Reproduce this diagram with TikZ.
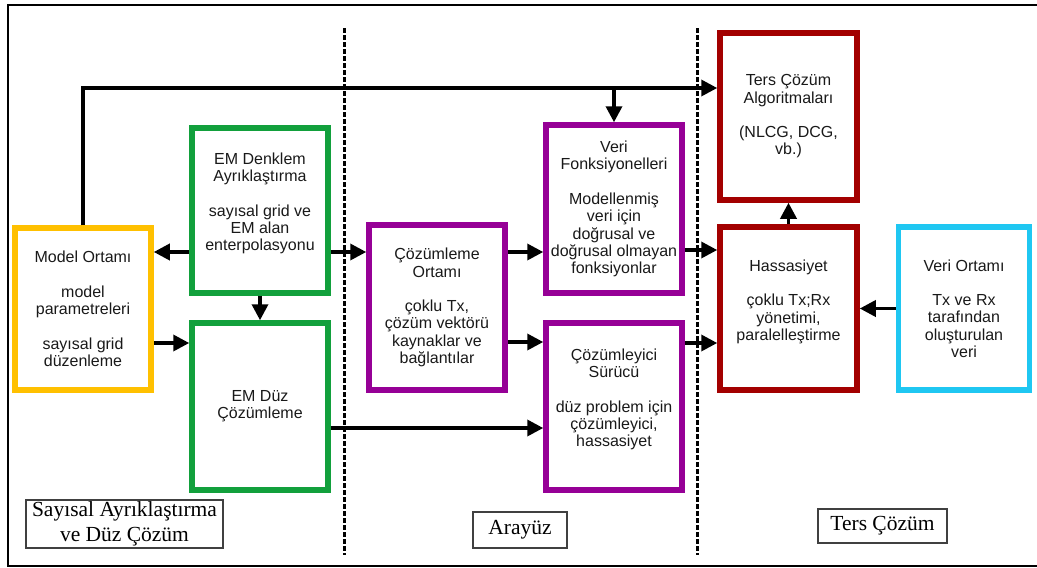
\documentclass[tikz,border=0pt]{standalone}
\usepackage{fontspec}
\setmainfont{Liberation Sans}
\newfontfamily\serifyazi{Liberation Serif}
\usetikzlibrary{arrows.meta}
\definecolor{sari}{HTML}{FFC000}
\definecolor{yesil}{HTML}{12A03C}
\definecolor{mor}{HTML}{960096}
\definecolor{bordo}{HTML}{A30000}
\definecolor{camgobegi}{HTML}{1FC7F2}
\newcommand{\kutuyazi}{\fontsize{16}{17.2}\selectfont}
\newcommand{\etiketyazi}{\serifyazi\fontsize{21.5}{25}\selectfont}
\begin{document}
\begin{tikzpicture}[x=1pt, y=-1pt,
    kutu/.style={draw=#1, line width=5.5pt, minimum width=136pt, minimum height=165pt,
        inner sep=0pt, align=center, font=\kutuyazi, text=black!90},
    etiket/.style={draw=black!75, line width=1.3pt, inner sep=0pt, align=center,
        font=\etiketyazi},
    ok/.style={line width=3.5pt, -{Triangle[length=16pt,width=16pt]}},
    kesik/.style={line width=3pt, dash pattern=on 4.5pt off 2.5pt}]
    \useasboundingbox (0,0) rectangle (1037,568);
    \draw[line width=2pt] (1037,5) -- (8,5) -- (8,566) -- (1037,566);
    \draw[kesik] (344,28) -- (344,555);
    \draw[kesik] (697,28) -- (697,555);

    \node[kutu=sari, minimum height=162pt] (model) at (83,309)
        {Model Ortamı\\[17.5pt] model\\ parametreleri\\[17.5pt] sayısal grid\\ düzenleme};
    \node[kutu=yesil] (emdenk) at (260,210.5)
        {EM Denklem\\ Ayrıklaştırma\\[17.5pt] sayısal grid ve\\ EM alan\\ enterpolasyonu\\ \mbox{}};
    \node[kutu=yesil, minimum height=167pt] (emduz) at (260,406.5) {EM Düz\\ Çözümleme};
    \node[kutu=mor] (cozorta) at (437,307.5)
        {Çözümleme\\ Ortamı\\[17.5pt] çoklu Tx,\\ çözüm vektörü\\ kaynaklar ve\\ bağlantılar};
    \node[kutu=mor, minimum height=168pt] (verifonk) at (614,209)
        {Veri\\ Fonksiyonelleri\\[17.5pt] Modellenmiş\\ veri için\\ doğrusal ve\\ doğrusal olmayan\\ fonksiyonlar};
    \node[kutu=mor, minimum height=167pt] (surucu) at (614,406.5)
        {Çözümleyici\\ Sürücü\\[17.5pt] düz problem için\\ çözümleyici,\\ hassasiyet\\ \mbox{}};
    \node[kutu=bordo, minimum width=137pt, minimum height=167pt] (ters) at (788.5,116.5)
        {Ters Çözüm\\ Algoritmaları\\[17.5pt] (NLCG, DCG,\\ vb.)};
    \node[kutu=bordo, minimum width=137pt, minimum height=163pt] (hass) at (788.5,308.5)
        {Hassasiyet\\[17.5pt] çoklu Tx;Rx\\ yönetimi,\\ paralelleştirme\\ \mbox{}};
    \node[kutu=camgobegi, minimum width=131pt, minimum height=163pt] (veriort) at (964,308.5)
        {Veri Ortamı\\[17.5pt] Tx ve Rx\\ tarafından\\ oluşturulan\\ veri};

    \node[etiket, minimum width=197pt, minimum height=48pt] (lsayisal) at (124.5,524)
        {Sayısal Ayrıklaştırma\\ ve Düz Çözüm};
    \node[etiket, minimum width=94pt, minimum height=36pt] (larayuz) at (520,530) {Arayüz};
    \node[etiket, minimum width=129pt, minimum height=34pt] (lters) at (882.5,526) {Ters Çözüm};

    \coordinate (kose) at (83,88);
    \draw[ok] (model.north) -- (kose) -- (kose -| ters.west);
    \draw[ok] (kose -| verifonk.north) -- (verifonk.north);
    \draw[ok] (emdenk.west |- 0,252) -- (model.east |- 0,252);
    \draw[ok] (emdenk.east |- 0,252) -- (cozorta.west |- 0,252);
    \draw[ok] (emdenk.south) -- (emduz.north);
    \draw[ok] (model.east |- 0,343) -- (emduz.west |- 0,343);
    \draw[ok] (cozorta.east |- 0,252) -- (verifonk.west |- 0,252);
    \draw[ok] (cozorta.east |- 0,342) -- (surucu.west |- 0,342);
    \draw[ok] (emduz.east |- 0,428) -- (surucu.west |- 0,428);
    \draw[ok] (verifonk.east |- 0,250) -- (hass.west |- 0,250);
    \draw[ok] (surucu.east |- 0,343) -- (hass.west |- 0,343);
    \draw[ok] (hass.north) -- (ters.south);
    \draw[ok] (veriort.west) -- (hass.east);
\end{tikzpicture}
\end{document}
